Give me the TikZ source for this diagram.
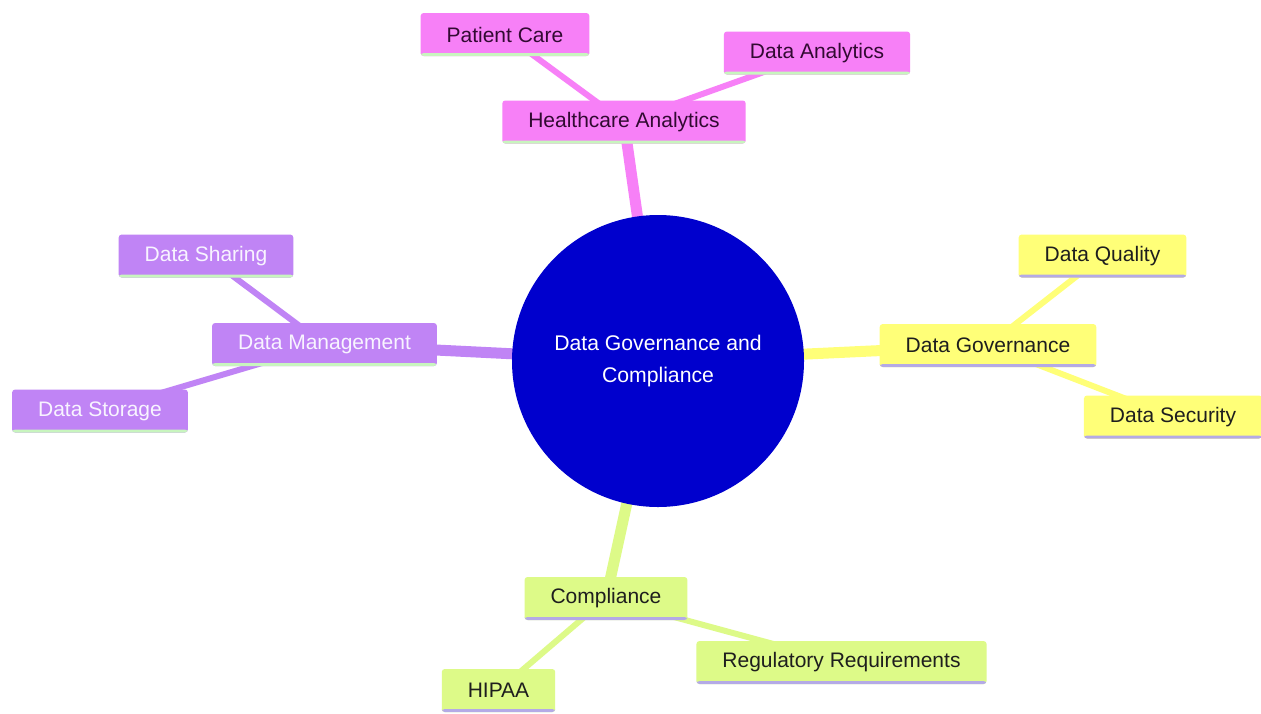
\documentclass[tikz,border=0pt]{standalone}
\usepackage{fontspec}
\setmainfont{Liberation Sans}
\usetikzlibrary{backgrounds}
\definecolor{pinkf}{RGB}{247,128,247}
\definecolor{purplef}{RGB}{192,132,245}
\definecolor{yellowf}{RGB}{255,255,120}
\definecolor{greenf}{RGB}{221,250,136}
\definecolor{rootblue}{RGB}{0,0,205}
\definecolor{lineg}{RGB}{200,245,190}
\definecolor{linel}{RGB}{180,170,230}
\definecolor{txtpink}{RGB}{50,10,50}
\definecolor{txtpurple}{RGB}{248,244,255}
\definecolor{txtdark}{RGB}{30,30,30}
\begin{document}
\begin{tikzpicture}[x=1pt,y=-1pt,
  box/.style={rounded corners=3pt, minimum height=43pt, inner xsep=26pt, inner ysep=0pt,
    font=\fontsize{21}{25}\selectfont},
  gline/.style={path picture={\fill[lineg] ([yshift=3pt]path picture bounding box.south west) rectangle (path picture bounding box.south east);}},
  lline/.style={path picture={\fill[linel] ([yshift=3pt]path picture bounding box.south west) rectangle (path picture bounding box.south east);}},
  pinkbox/.style={box, fill=pinkf, text=txtpink, gline},
  purplebox/.style={box, fill=purplef, text=txtpurple, gline},
  yellowbox/.style={box, fill=yellowf, text=txtdark, lline},
  greenbox/.style={box, fill=greenf, text=txtdark, lline},
  rootedge/.style={line width=11pt},
  childedge/.style={line width=6pt},
]
\useasboundingbox (0,0) rectangle (1261,713);
\node[circle, fill=rootblue, minimum size=292pt, inner sep=0pt, text=white, align=center,
  font=\fontsize{21.2}{32}\selectfont] (root) at (658,361) {Data Governance and\\Compliance};

\node[pinkbox] (ha) at (624,122) {Healthcare Analytics};
\node[pinkbox] (pc) at (505,34.5) {Patient Care};
\node[pinkbox] (da) at (817,53) {Data Analytics};

\node[purplebox] (dm) at (324.5,344.5) {Data Management};
\node[purplebox] (dsh) at (206,256) {Data Sharing};
\node[purplebox] (dst) at (100,411) {Data Storage};

\node[yellowbox] (dg) at (988,345.5) {Data Governance};
\node[yellowbox] (dq) at (1102.5,256) {Data Quality};
\node[yellowbox] (dse) at (1173,417) {Data Security};

\node[greenbox] (co) at (606,598.5) {Compliance};
\node[greenbox] (hi) at (498.5,690.5) {HIPAA};
\node[greenbox] (rr) at (841.5,662.5) {Regulatory Requirements};

\begin{scope}[on background layer]
\fill[white] (0,0) rectangle (1261,713);
\draw[pinkf, rootedge] (root.center) -- (ha.center);
\draw[purplef, rootedge] (root.center) -- (dm.center);
\draw[yellowf, rootedge] (root.center) -- (dg.center);
\draw[greenf, rootedge] (root.center) -- (co.center);
\draw[pinkf, childedge] (ha.center) -- (pc.center);
\draw[pinkf, childedge] (ha.center) -- (da.center);
\draw[purplef, childedge] (dm.center) -- (dsh.center);
\draw[purplef, childedge] (dm.center) -- (dst.center);
\draw[yellowf, childedge] (dg.center) -- (dq.center);
\draw[yellowf, childedge] (dg.center) -- (dse.center);
\draw[greenf, childedge] (co.center) -- (hi.center);
\draw[greenf, childedge] (co.center) -- (rr.center);
\end{scope}
\end{tikzpicture}
\end{document}
